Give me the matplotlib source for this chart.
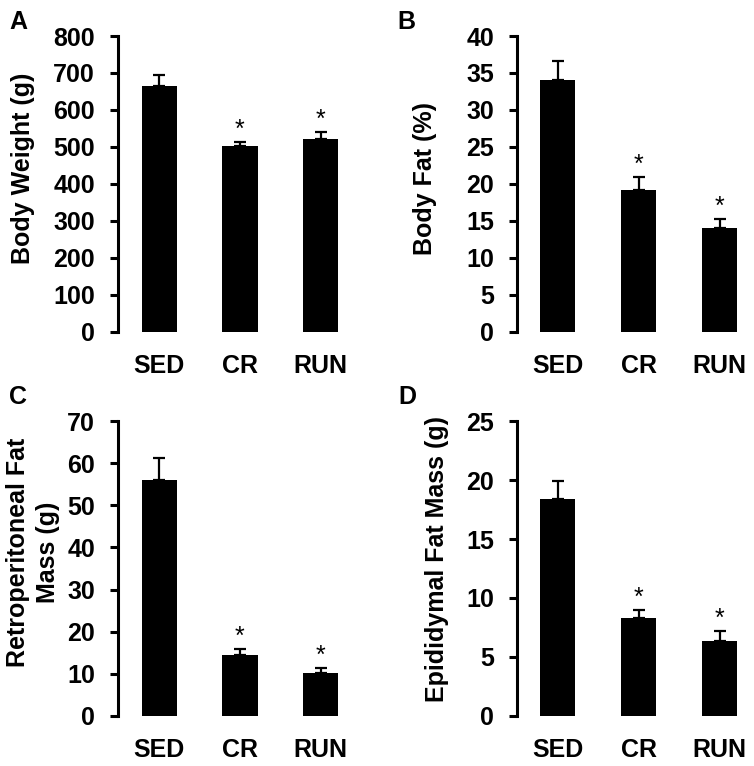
import matplotlib
matplotlib.use('Agg')
import matplotlib.pyplot as plt
import numpy as np

plt.rcParams['font.family'] = ['Liberation Sans', 'DejaVu Sans']

grupos = ['SED', 'CR', 'RUN']

peso_media = [665, 503, 522]
peso_erro = [30, 10, 18]

gordura_media = [34.0, 19.15, 14.1]
gordura_erro = [2.6, 1.75, 1.2]

retro_media = [56.0, 14.5, 10.15]
retro_erro = [5.2, 1.4, 1.15]

epid_media = [18.37, 8.27, 6.32]
epid_erro = [1.53, 0.70, 0.87]

signif = [False, True, True]

paineis = [
    ('A', peso_media, peso_erro, 'Body Weight (g)', 800, 100),
    ('B', gordura_media, gordura_erro, 'Body Fat (%)', 40, 5),
    ('C', retro_media, retro_erro, 'Retroperitoneal Fat\nMass (g)', 70, 10),
    ('D', epid_media, epid_erro, 'Epididymal Fat Mass (g)', 25, 5),
]

# posicoes dos eixos em fracao da figura
posicoes = [
    [0.1565, 0.5666, 0.322, 0.3864],
    [0.6857, 0.5666, 0.3008, 0.3864],
    [0.1565, 0.0657, 0.322, 0.3843],
    [0.6857, 0.0657, 0.3008, 0.3843],
]
xlims = [(-0.514, 2.5), (-0.5, 2.3), (-0.514, 2.5), (-0.5, 2.3)]
label_xy = [(-0.39, 0.554), (-0.405, 0.517), (-0.35, 0.556), (-0.354, 0.532)]
letra_xy = [(9, 10), (397, 10), (9, 385), (398, 385)]

fig = plt.figure(figsize=(7.54, 7.66), dpi=100)

for k, (letra, media, erro, ylabel, ymax, passo) in enumerate(paineis):
    ax = fig.add_axes(posicoes[k])
    x = np.arange(len(grupos))
    ax.bar(x, media, width=0.44, color='black', zorder=2)
    ax.errorbar(x, media, yerr=[np.zeros(len(erro)), erro], fmt='none',
                ecolor='black', elinewidth=1.6, capsize=4.5, capthick=1.6, zorder=1)
    for xi, m, e, s in zip(x, media, erro, signif):
        if s:
            ax.text(xi, m + e, '*', ha='center', va='bottom', fontsize=18)

    ax.set_xlim(*xlims[k])
    ax.set_ylim(0, ymax)
    ax.set_yticks(np.arange(0, ymax + passo / 2, passo))
    ax.set_xticks(x)
    ax.set_xticklabels(grupos, fontsize=18, fontweight='bold')
    for lb in ax.get_yticklabels():
        lb.set_fontsize(18)
        lb.set_fontweight('bold')

    for lado in ['top', 'right', 'bottom']:
        ax.spines[lado].set_visible(False)
    ax.spines['left'].set_linewidth(2.2)
    ax.tick_params(axis='y', direction='out', length=5.5, width=2.2, pad=11)
    ax.tick_params(axis='x', length=0, pad=16)

    ax.set_ylabel(ylabel, fontsize=18, fontweight='bold', va='center',
                  ha='center', linespacing=1.35)
    ax.yaxis.set_label_coords(*label_xy[k])

    fig.text(letra_xy[k][0] / 754, 1 - letra_xy[k][1] / 766, letra,
             fontsize=18, fontweight='bold', ha='left', va='top')

fig.savefig('out.png', dpi=100)
